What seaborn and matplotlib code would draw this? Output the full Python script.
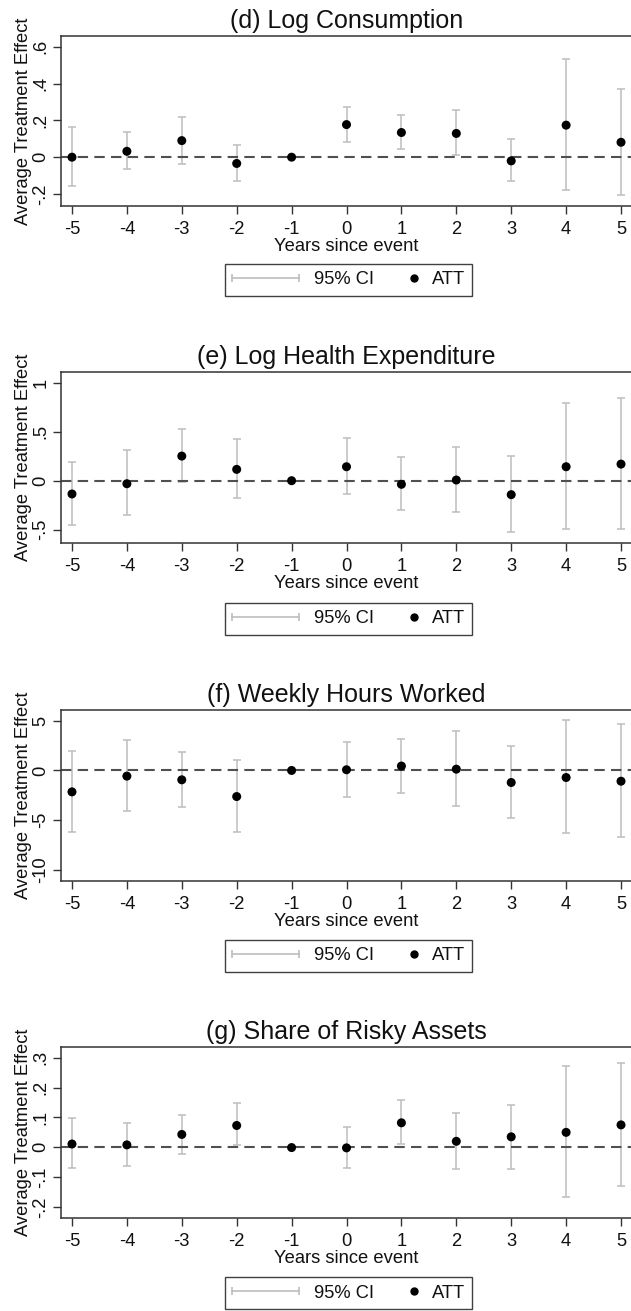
import numpy as np
import pandas as pd
import matplotlib
matplotlib.use("Agg")
import matplotlib.pyplot as plt
import seaborn as sns
from matplotlib.lines import Line2D
from matplotlib.legend_handler import HandlerLine2D, HandlerBase
from matplotlib.ticker import FuncFormatter

# ---------------- data ----------------
years = [-5, -4, -3, -2, -1, 0, 1, 2, 3, 4, 5]

d_att = [0.000, 0.032, 0.090, -0.034, 0.0, 0.177, 0.134, 0.129, -0.020, 0.174, 0.081]
d_lo = [-0.158, -0.066, -0.036, -0.131, np.nan, 0.084, 0.047, 0.011, -0.131, -0.179, -0.203]
d_hi = [0.163, 0.138, 0.220, 0.068, np.nan, 0.274, 0.228, 0.256, 0.097, 0.534, 0.369]

e_att = [-0.136, -0.031, 0.252, 0.116, 0.0, 0.143, -0.037, 0.007, -0.143, 0.143, 0.170]
e_lo = [-0.450, -0.355, -0.014, -0.177, np.nan, -0.133, -0.300, -0.317, -0.525, -0.494, -0.494]
e_hi = [0.188, 0.310, 0.528, 0.423, np.nan, 0.436, 0.239, 0.348, 0.256, 0.798, 0.842]

f_att = [-2.15, -0.57, -0.94, -2.62, 0.0, 0.07, 0.44, 0.13, -1.21, -0.71, -1.08]
f_lo = [-6.16, -4.10, -3.67, -6.16, np.nan, -2.62, -2.22, -3.57, -4.74, -6.32, -6.69]
f_hi = [1.98, 3.06, 1.85, 1.04, np.nan, 2.86, 3.16, 3.97, 2.49, 5.05, 4.64]

g_att = [0.011, 0.008, 0.043, 0.073, -0.001, -0.002, 0.082, 0.020, 0.035, 0.050, 0.075]
g_lo = [-0.071, -0.062, -0.021, 0.006, np.nan, -0.069, 0.012, -0.073, -0.072, -0.168, -0.130]
g_hi = [0.097, 0.080, 0.109, 0.147, np.nan, 0.069, 0.157, 0.116, 0.143, 0.273, 0.284]

titles = ["(d) Log Consumption", "(e) Log Health Expenditure",
          "(f) Weekly Hours Worked", "(g) Share of Risky Assets"]
d_yticks = [-0.2, 0, 0.2, 0.4, 0.6]
e_yticks = [-0.5, 0, 0.5, 1]
f_yticks = [-10, -5, 0, 5]
g_yticks = [-0.2, -0.1, 0, 0.1, 0.2, 0.3]

xlabel = "Years since event"
ylabel = "Average Treatment Effect"
legend_labels = ["95% CI", "ATT"]

# ---------------- style ----------------
sns.set_theme(style="white")
plt.rcParams["font.family"] = ["Liberation Sans", "DejaVu Sans"]

CI_COLOR = "#bdbdbd"
FRAME = "#333333"
TXT = "#111111"
FS = 13.2

W, H = 631, 1311
fig = plt.figure(figsize=(W / 100, H / 100), dpi=100)


class DotHandler(HandlerBase):
    def create_artists(self, legend, orig_handle, xdescent, ydescent,
                       width, height, fontsize, trans):
        x = -xdescent + width - 0.15 * fontsize
        y = height / 2 - ydescent
        m = Line2D([x], [y], marker="o", color="black", ls="none",
                   markersize=orig_handle.get_markersize())
        m.set_transform(trans)
        return [m]


def stata_fmt(v, pos):
    s = f"{v:g}"
    if s.startswith("0."):
        s = s[1:]
    elif s.startswith("-0."):
        s = "-" + s[2:]
    return s


panels = [
    (titles[0], d_att, d_lo, d_hi, (-0.265, 0.658), d_yticks, 36, 206, 280),
    (titles[1], e_att, e_lo, e_hi, (-0.638, 1.113), e_yticks, 372, 543, 619),
    (titles[2], f_att, f_lo, f_hi, (-11.1, 6.07), f_yticks, 710, 881, 956),
    (titles[3], g_att, g_lo, g_hi, (-0.237, 0.336), g_yticks, 1047, 1218, 1293),
]

for title, att, lo, hi, ylim, yticks, top, bot, leg_cy in panels:
    ax = fig.add_axes([61 / W, 1 - bot / H, (632 - 61) / W, (bot - top) / H])
    df = pd.DataFrame({"year": years, "att": att, "lo": lo, "hi": hi})
    ci = df.dropna()
    ax.errorbar(ci["year"], ci["att"],
                yerr=[ci["att"] - ci["lo"], ci["hi"] - ci["att"]],
                fmt="none", ecolor=CI_COLOR, elinewidth=1.1,
                capsize=3, capthick=1.1, zorder=1)
    ax.axhline(0, color="#505050", lw=1.5, ls=(0, (5, 3)), zorder=2)
    sns.scatterplot(data=df, x="year", y="att", color="black", s=42,
                    edgecolor="none", ax=ax, zorder=3, legend=False)

    ax.set_xlim(-5.2, 5.2)
    ax.set_ylim(*ylim)
    ax.set_xticks(years)
    ax.set_xticklabels([str(y) for y in years])
    ax.set_yticks(yticks)
    ax.yaxis.set_major_formatter(FuncFormatter(stata_fmt))

    ax.tick_params(axis="both", direction="out", length=5.5, width=1,
                   color=FRAME, labelsize=FS, labelcolor=TXT,
                   bottom=True, left=True)
    ax.tick_params(axis="x", pad=5.5)
    ax.tick_params(axis="y", pad=3, labelrotation=90)
    for t in ax.get_yticklabels():
        t.set_va("center")

    for sp in ax.spines.values():
        sp.set_color(FRAME)
        sp.set_linewidth(1.1)
    ax.spines["right"].set_visible(False)

    ax.set_title(title, fontsize=18, color=TXT, pad=5.5)
    ax.set_xlabel(xlabel, fontsize=FS, color=TXT, labelpad=0)
    ax.set_ylabel(ylabel, fontsize=FS, color=TXT, labelpad=0)

    ci_handle = Line2D([], [], color=CI_COLOR, lw=1.2, marker="|",
                       markersize=6, markeredgewidth=1.2)
    dot_handle = Line2D([], [], color="black", marker="o", ls="none",
                        markersize=5)
    leg = ax.legend([ci_handle, dot_handle], legend_labels,
                    loc="center",
                    bbox_to_anchor=(348.5 / W, 1 - leg_cy / H),
                    bbox_transform=fig.transFigure,
                    ncol=2, frameon=True, fancybox=False,
                    edgecolor="#404040", framealpha=1, fontsize=FS,
                    handlelength=3.66, handletextpad=0.8,
                    columnspacing=-1.3, borderpad=0.4,
                    handler_map={ci_handle: HandlerLine2D(numpoints=2, marker_pad=0),
                                 dot_handle: DotHandler()})
    leg.get_frame().set_linewidth(1.0)
    for t in leg.get_texts():
        t.set_color(TXT)

fig.savefig("out.png", dpi=100)
